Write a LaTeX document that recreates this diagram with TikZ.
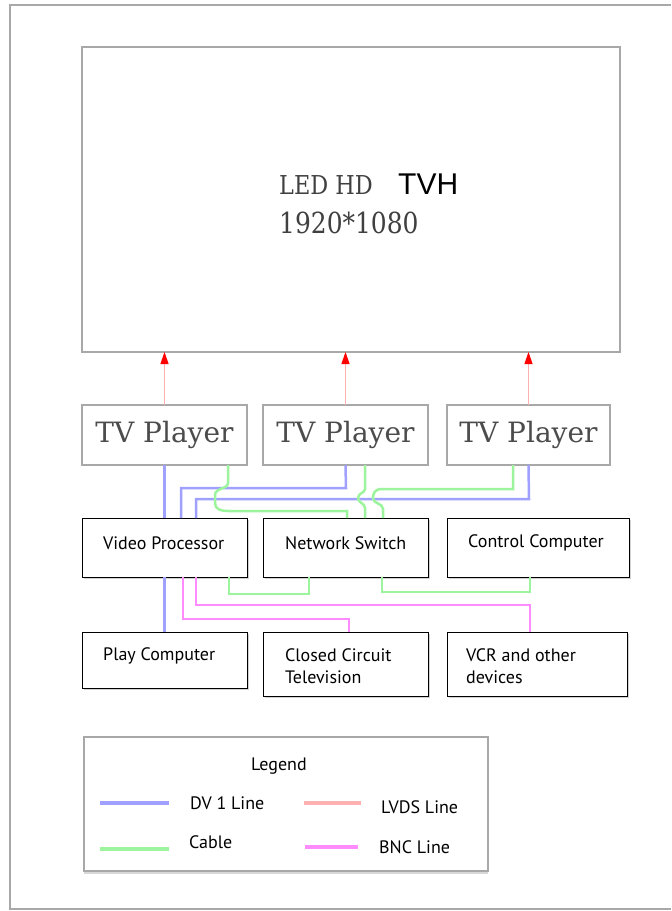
\documentclass[tikz,border=0pt]{standalone}
\usepackage{fontspec}
\usetikzlibrary{arrows.meta,calc,shadows}
\newfontfamily\boxfont{PT Sans}
\newfontfamily\simfont{DejaVu Serif}
\newfontfamily\simnarrow[FakeStretch=0.86]{DejaVu Serif}
\newfontfamily\arialfont{Liberation Sans}
\definecolor{dvblue}{HTML}{A0A0FF}
\definecolor{cablegreen}{HTML}{9CF59C}
\definecolor{bncpink}{HTML}{FF8CFF}
\definecolor{lvdsred}{HTML}{FFB0B0}
\definecolor{framegray}{HTML}{A8A8A8}
\begin{document}
\begin{tikzpicture}[x=1pt,y=-1pt,
  graybox/.style={draw=framegray, line width=2.2pt, fill=white, inner sep=0pt, outer sep=0pt, anchor=north west},
  devbox/.style={draw=black, line width=1pt, fill=white, inner sep=0pt, outer sep=0pt, anchor=north west,
    drop shadow={shadow xshift=1.5pt, shadow yshift=-2pt, opacity=0.35}},
  legbox/.style={draw=framegray, line width=2pt, fill=white, inner sep=0pt, outer sep=0pt, anchor=north west,
    drop shadow={shadow xshift=0pt, shadow yshift=-2.5pt, opacity=0.3}},
  playertext/.style={font=\simfont\fontsize{28}{32}\selectfont, text=black!70},
  boxtext/.style={font=\boxfont\fontsize{18}{22}\selectfont, anchor=west, inner sep=0pt, align=left},
  dvline/.style={draw=dvblue, line width=2.5pt},
  cable/.style={draw=cablegreen, line width=2.5pt},
  bnc/.style={draw=bncpink, line width=2.5pt},
  lvds/.style={draw=lvdsred, line width=1.2pt, -{Triangle[width=8pt,length=12pt,red]}},
  legline/.style={line width=3.5pt}
]
\useasboundingbox (0,0) rectangle (672,911);
\fill[white] (0,0) rectangle (672,911);
% outer frame (open on the right, as in the reference)
\draw[framegray, line width=2.5pt] (671,5) -- (10,5) -- (10,909) -- (671,909);

% LED screen
\node[graybox, minimum width=538pt, minimum height=305pt] (tv) at (82,47) {};
\node[anchor=base west, inner sep=0pt, font=\simnarrow\fontsize{26}{30}\selectfont, text=black!75] (tvl1) at (279,194) {LED HD};
\node[anchor=base west, inner sep=0pt, font=\arialfont\fontsize{30}{34}\selectfont] (tvl3) at (398,194) {TVH};
\node[anchor=base west, inner sep=0pt, font=\simnarrow\fontsize{29}{32}\selectfont, text=black!75] (tvl2) at (279,233) {1920*1080};

% TV players
\node[graybox, minimum width=165pt, minimum height=60pt, playertext] (p1) at (82,405) {TV Player};
\node[graybox, minimum width=165pt, minimum height=60pt, playertext] (p2) at (263,405) {TV Player};
\node[graybox, minimum width=163pt, minimum height=60pt, playertext] (p3) at (447,405) {TV Player};

% LVDS arrows
\draw[lvds] (p1.north) -- (p1.north |- tv.south);
\draw[lvds] (p2.north) -- (p2.north |- tv.south);
\draw[lvds] (p3.north) -- (p3.north |- tv.south);

% device boxes row 2
\node[devbox, minimum width=165pt, minimum height=59pt] (vp) at (82,518) {};
\node[devbox, minimum width=165pt, minimum height=59pt] (ns) at (263,518) {};
\node[devbox, minimum width=182pt, minimum height=59pt] (cc) at (447,518) {};
% device boxes row 3
\node[devbox, minimum width=165pt, minimum height=56pt] (pc) at (82,632) {};
\node[devbox, minimum width=165pt, minimum height=64pt] (cctv) at (263,632) {};
\node[devbox, minimum width=180pt, minimum height=64pt] (vcr) at (447,632) {};

% connectors between players and row 2
\draw[dvline] (p1.south) -- (vp.north -| p1.south);
\draw[dvline] (p2.south) -- (346,488) -| ($(vp.north west)+(99,0)$);
\draw[dvline] (p3.south) -- (529,499) -| ($(vp.north west)+(114,0)$);

\draw[cable] ($(p1.south west)+(146,0)$) -- (228,483)
  .. controls (228,489) and (215,488) .. (215,495) -- (215,503)
  .. controls (215,509) and (220,511) .. (229,511) -- (347,511) -- ($(ns.north west)+(84,0)$);
\draw[cable] ($(p2.south west)+(102,0)$) -- (365,489)
  .. controls (365,493) and (358,493) .. (358,498)
  .. controls (358,503) and (365,503) .. (365,508) -- ($(ns.north west)+(102,0)$);
\draw[cable] ($(p3.south west)+(66,0)$) -- (513,489) -- (382,489)
  .. controls (375,489) and (373,493) .. (373,498)
  .. controls (373,504) and (383,503) .. (383,509) -- ($(ns.north west)+(120,0)$);

% connectors between row 2 and row 3
\draw[dvline] (vp.south) -- (pc.north);
\draw[bnc] ($(vp.south west)+(101,0)$) -- (183,619) -| ($(cctv.north west)+(86,0)$);
\draw[bnc] ($(vp.south west)+(114,0)$) -- (196,605) -| ($(vcr.north west)+(83,0)$);
\draw[cable] ($(vp.south west)+(147,0)$) -- (229,594) -| ($(ns.south west)+(46,0)$);
\draw[cable] ($(ns.south west)+(119,0)$) -- (382,592) -| ($(cc.south west)+(83,0)$);

% box texts
\node[boxtext] (vpt) at (103,543) {Video Processor};
\node[boxtext] (nst) at (285,543) {Network Switch};
\node[boxtext] (cct) at (468,543) {Control Computer};
\node[boxtext] (pct) at (103,656) {Play Computer};
\node[boxtext] (cctvt) at (285,666) {Closed Circuit\\Television};
\node[boxtext] (vcrt) at (466,666) {VCR and other\\devices};

% legend
\node[legbox, minimum width=404pt, minimum height=134pt] (leg) at (84,737) {};
\node[boxtext, anchor=center] (legt) at (279,766) {Legend};
\draw[dvline, legline] (100,803) coordinate (la1) -- (169,803) coordinate (la2);
\node[boxtext] (lt1) at (190,803) {DV 1 Line};
\draw[draw=lvdsred, legline] (304,803) coordinate (lb1) -- (361,803) coordinate (lb2);
\node[boxtext] (lt2) at (381,807) {LVDS Line};
\draw[cable, legline] (100,849) coordinate (lc1) -- (169,849) coordinate (lc2);
\node[boxtext] (lt3) at (189,842) {Cable};
\draw[bnc, legline] (305,847) coordinate (ld1) -- (358,847) coordinate (ld2);
\node[boxtext] (lt4) at (379,847) {BNC Line};
\end{tikzpicture}
\end{document}
